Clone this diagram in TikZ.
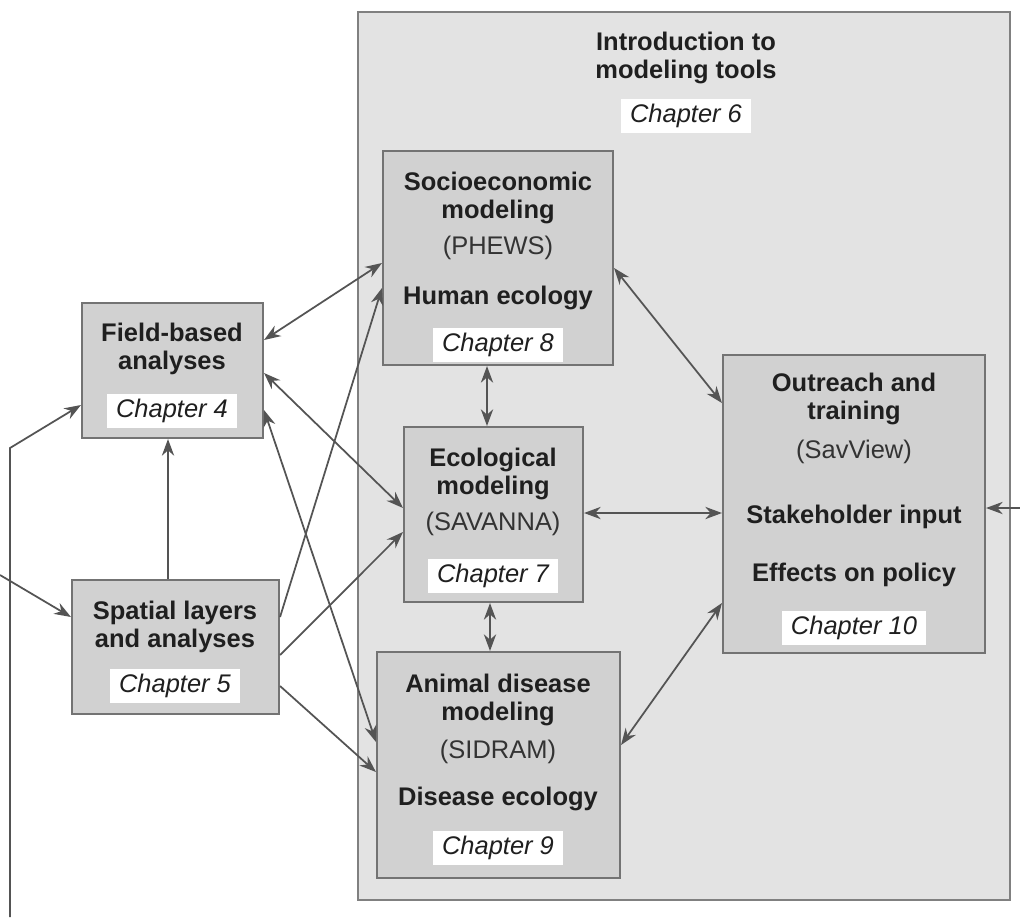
\documentclass[tikz,border=0pt]{standalone}
\usepackage{fontspec}
\setmainfont{Liberation Sans}
\usetikzlibrary{arrows.meta}

\definecolor{panelfill}{gray}{0.89}
\definecolor{panelline}{gray}{0.50}
\definecolor{boxfill}{gray}{0.82}
\definecolor{boxline}{gray}{0.45}
\definecolor{arrowgray}{gray}{0.33}

\tikzset{
    panelbox/.style={draw=panelline, line width=1.2pt, fill=panelfill, inner sep=0pt},
    modelbox/.style={draw=boxline, line width=1.2pt, fill=boxfill, inner sep=0pt},
    head/.style={font=\fontsize{14.5}{16}\selectfont\bfseries, text=black!88, align=center},
    tool/.style={font=\fontsize{14.5}{16}\selectfont, text=black!80},
    chap/.style={font=\fontsize{14.5}{16}\selectfont\itshape, text=black!88, fill=white, inner xsep=5pt, inner ysep=3pt},
    link/.style={draw=arrowgray, line width=1pt},
    >={Stealth[length=9.5pt,width=7pt]}
}

\begin{document}
\begin{tikzpicture}[x=0.02cm, y=-0.02cm]

        \useasboundingbox (0,0) rectangle (1020,917);

        % modeling tools panel
        \node[panelbox, minimum width=13.04cm, minimum height=17.76cm] (tools) at (684,456) {};
        \node[head] (toolsname) at (686,58) {Introduction to\\modeling tools};
        \node[chap] (toolschap) at (686,116) {Chapter 6};

        % boxes
        \node[modelbox, minimum width=3.62cm, minimum height=2.70cm] (field) at (172.5,370.5) {};
        \node[modelbox, minimum width=4.14cm, minimum height=2.68cm] (spatial) at (175.5,647) {};
        \node[modelbox, minimum width=4.60cm, minimum height=4.28cm] (socio) at (498,258) {};
        \node[modelbox, minimum width=3.58cm, minimum height=3.50cm] (eco) at (493.5,514.5) {};
        \node[modelbox, minimum width=4.86cm, minimum height=4.52cm] (animal) at (498.5,765) {};
        \node[modelbox, minimum width=5.24cm, minimum height=5.96cm] (outreach) at (854,504) {};

        \node[head] (fieldname) at (172,349) {Field-based\\analyses};
        \node[chap] (fieldchap) at (172,411) {Chapter 4};

        \node[head] (spatialname) at (175,627) {Spatial layers\\and analyses};
        \node[chap] (spatialchap) at (175,686) {Chapter 5};

        \node[head] (socioname) at (498,198) {Socioeconomic\\modeling};
        \node[tool] (sociotool) at (498,248) {(PHEWS)};
        \node[head] (sociotopic) at (498,298) {Human ecology};
        \node[chap] (sociochap) at (498,345) {Chapter 8};

        \node[head] (econame) at (493,474) {Ecological\\modeling};
        \node[tool] (ecotool) at (493,524) {(SAVANNA)};
        \node[chap] (ecochap) at (493,576) {Chapter 7};

        \node[head] (animalname) at (498,700) {Animal disease\\modeling};
        \node[tool] (animaltool) at (498,752) {(SIDRAM)};
        \node[head] (animaltopic) at (498,799) {Disease ecology};
        \node[chap] (animalchap) at (498,848) {Chapter 9};

        \node[head] (outreachname) at (854,399) {Outreach and\\training};
        \node[tool] (outreachtool) at (854,452) {(SavView)};
        \node[head] (outreachinput) at (854,517) {Stakeholder input};
        \node[head] (outreachpolicy) at (854,575) {Effects on policy};
        \node[chap] (outreachchap) at (854,628) {Chapter 10};

        % free ends at the picture edge
        \coordinate (rightin) at (1020,508);
        \coordinate (leftin) at (0,575);
        \coordinate (bottomin) at (10,917);
        \coordinate (bend) at (10,448);

        % links
        \draw[link,<->] (field.east |- 0,340) -- (socio.west |- 0,263);
        \draw[link,<->] (field.east |- 0,373) -- (eco.west |- 0,508);
        \draw[link,<->] (field.east |- 0,410) -- (animal.west |- 0,742);
        \draw[link,->] (spatial.north -| 168,0) -- (field.south -| 168,0);
        \draw[link,->] (spatial.east |- 0,617) -- (socio.west |- 0,288);
        \draw[link,->] (spatial.east |- 0,655) -- (eco.west |- 0,532);
        \draw[link,->] (spatial.east |- 0,686) -- (animal.west |- 0,772);
        \draw[link,<->] (socio.south -| 487,0) -- (eco.north -| 487,0);
        \draw[link,<->] (eco.south -| 490,0) -- (animal.north -| 490,0);
        \draw[link,<->] (socio.east |- 0,268) -- (outreach.west |- 0,403);
        \draw[link,<->] (eco.east |- 0,513) -- (outreach.west |- 0,513);
        \draw[link,<->] (animal.east |- 0,745) -- (outreach.west |- 0,603);
        \draw[link,->] (rightin) -- (outreach.east |- rightin);
        \draw[link,->] (leftin) -- (spatial.west |- 0,617);
        \draw[link,->] (bottomin) -- (bend) -- (field.west |- 0,405);

    \end{tikzpicture}
\end{document}
